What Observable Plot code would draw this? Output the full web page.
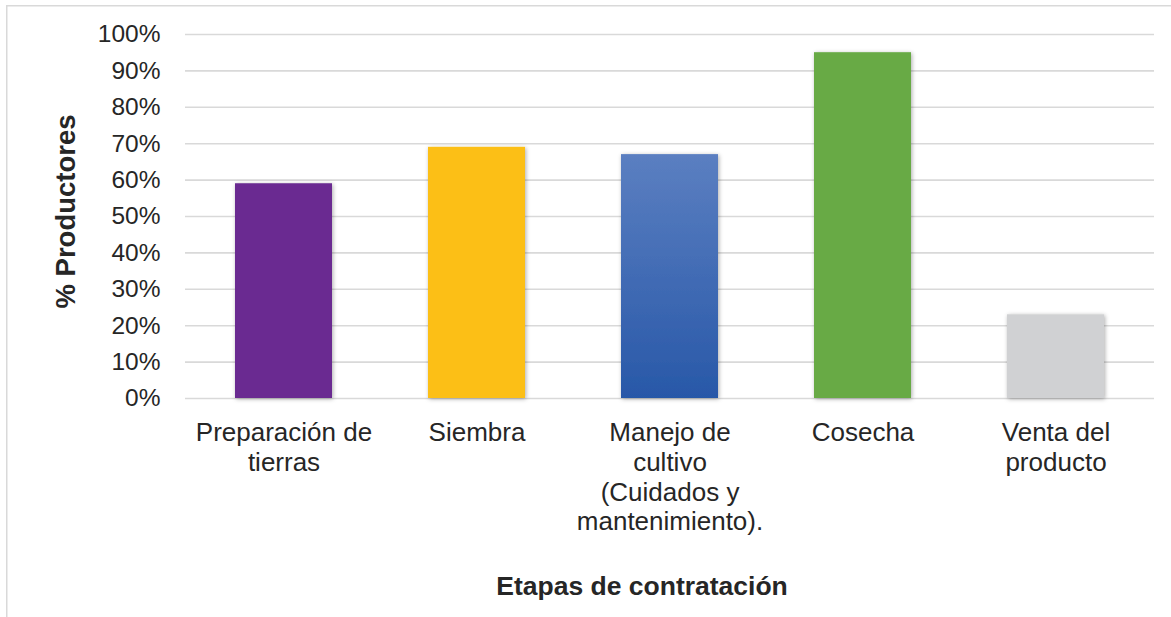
<!DOCTYPE html>
<html>
<head>
<meta charset="utf-8">
<script src="https://cdn.jsdelivr.net/npm/d3@7"></script>
<script src="https://cdn.jsdelivr.net/npm/@observablehq/plot@0.6"></script>
<style>
  html, body { margin: 0; padding: 0; background: #fff; }
  #chart { width: 1171px; height: 617px; }
</style>
</head>
<body>
<div id="chart"></div>
<script>
// Etapas en las que los productores contratan mano de obra
const categories = [
  "Preparación de\ntierras",
  "Siembra",
  "Manejo de\ncultivo\n(Cuidados y\nmantenimiento).",
  "Cosecha",
  "Venta del\nproducto"
];
const values = [59, 69, 67, 95, 23];
const fills = ["#6a2c91", "#fcbf15", "url(#manejoGrad)", "#68aa44", "#d0d1d3"];
const yTicks = [0, 10, 20, 30, 40, 50, 60, 70, 80, 90, 100];
const yTitle = "% Productores";
const xTitle = "Etapas de contratación";

const rows = categories.map((c, i) => ({etapa: c, pct: values[i], fill: fills[i]}));

const font = "'Liberation Sans', Arial, sans-serif";

// Gradient, shadow and outer border of the chart area
const decorations = () => {
  const ns = "http://www.w3.org/2000/svg";
  const g = document.createElementNS(ns, "g");
  g.innerHTML = `
    <defs>
      <linearGradient id="manejoGrad" x1="0" y1="0" x2="0" y2="1">
        <stop offset="0" stop-color="#5b7fc1"/>
        <stop offset="1" stop-color="#2858a8"/>
      </linearGradient>
      <filter id="barShadow" x="-20%" y="-20%" width="140%" height="140%">
        <feDropShadow dx="1" dy="1" stdDeviation="2.2" flood-color="#000" flood-opacity="0.32"/>
      </filter>
    </defs>
    <path d="M6.75,617 V5.75 H1171" fill="none" stroke="#d9d9d9" stroke-width="1.5"/>`;
  return g;
};

const chart = Plot.plot({
  width: 1171,
  height: 617,
  marginLeft: 185,
  marginRight: 17,
  marginTop: 34,
  marginBottom: 219,
  style: {fontFamily: font, background: "#fff", color: "#262626", overflow: "visible"},
  x: {domain: categories, paddingInner: 0.5, paddingOuter: 0.25, align: 0.5},
  y: {domain: [0, 100]},
  color: {type: "identity"},
  marks: [
    decorations,
    Plot.ruleY(yTicks, {stroke: "#d9d9d9", strokeWidth: 1.6, strokeOpacity: 1}),
    Plot.barY(rows, {x: "etapa", y: "pct", fill: "fill"}),
    Plot.axisY(yTicks, {
      tickSize: 0, tickPadding: 25, fontSize: 24.5, label: null,
      tickFormat: d => `${d}%`, fill: "#262626"
    }),
    Plot.axisX({
      tickSize: 0, tickPadding: 21, fontSize: 26, label: null,
      lineHeight: 1.15, fill: "#262626"
    }),
    Plot.text([yTitle], {
      frameAnchor: "left", rotate: -90, dx: -119, dy: -5,
      fontSize: 27.5, fontWeight: "bold", fill: "#262626", textAnchor: "middle"
    }),
    Plot.text([xTitle], {
      frameAnchor: "bottom", dx: -28, dy: 196,
      fontSize: 26.5, fontWeight: "bold", fill: "#262626", textAnchor: "middle"
    })
  ]
});

// apply the soft shadow to each bar
d3.select(chart).selectAll("rect").filter(function () {
  return this.closest("g[aria-label='bar']");
}).attr("filter", "url(#barShadow)");

document.getElementById("chart").appendChild(chart);
</script>
</body>
</html>
